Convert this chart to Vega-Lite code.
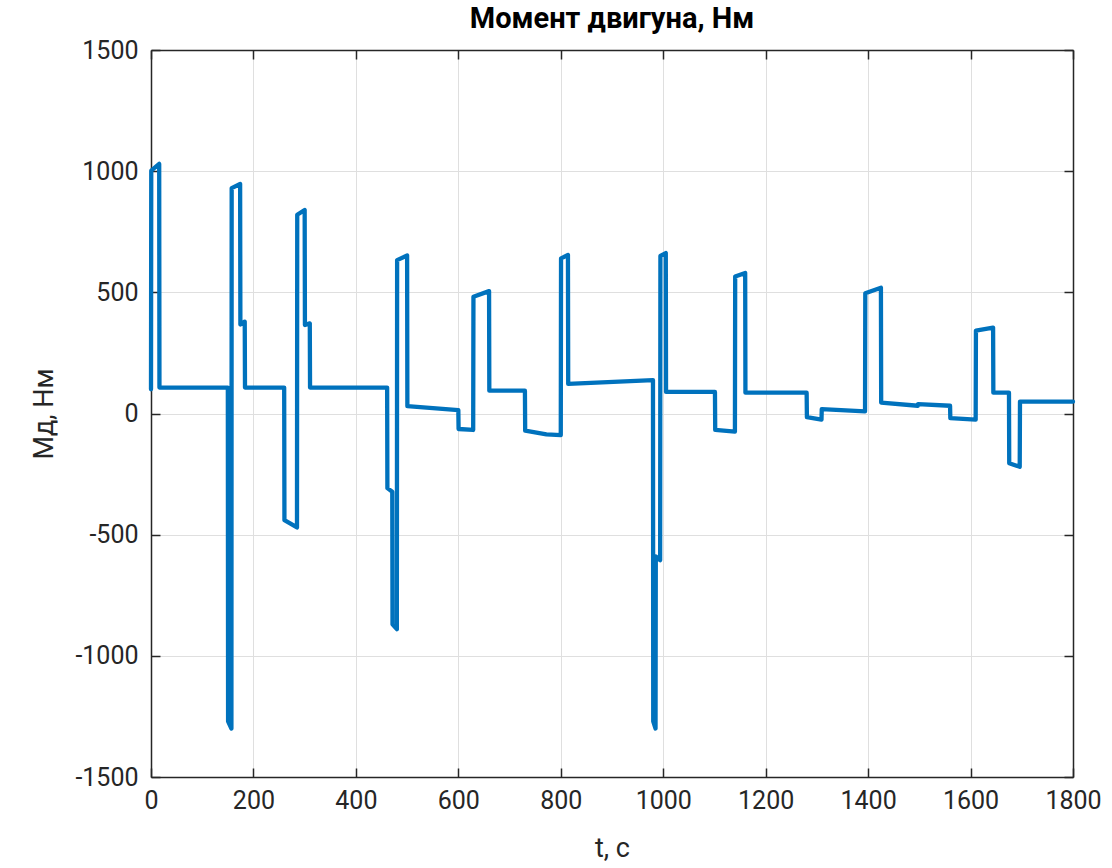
{
  "$schema": "https://vega.github.io/schema/vega-lite/v6.json",
  "autosize": {"type": "none"},
  "width": 922,
  "height": 727,
  "padding": {"left": 151, "top": 50, "right": 39, "bottom": 91},
  "background": "white",
  "title": {
    "text": "Момент двигуна, Нм",
    "font": "Roboto",
    "fontSize": 29,
    "fontWeight": "bold",
    "color": "#000000",
    "anchor": "middle",
    "offset": 4
  },
  "data": {
    "values": [
      {"i": 1, "t": 0, "M": 100},
      {"i": 2, "t": 0.5, "M": 1002},
      {"i": 3, "t": 16, "M": 1030},
      {"i": 4, "t": 16.5, "M": 107},
      {"i": 5, "t": 150, "M": 107},
      {"i": 6, "t": 150.5, "M": -1270},
      {"i": 7, "t": 157, "M": -1300},
      {"i": 8, "t": 157.5, "M": 930},
      {"i": 9, "t": 174, "M": 947},
      {"i": 10, "t": 174.5, "M": 367},
      {"i": 11, "t": 183, "M": 379},
      {"i": 12, "t": 183.5, "M": 107},
      {"i": 13, "t": 260, "M": 107},
      {"i": 14, "t": 260.5, "M": -440},
      {"i": 15, "t": 285, "M": -470},
      {"i": 16, "t": 285.5, "M": 820},
      {"i": 17, "t": 300, "M": 840},
      {"i": 18, "t": 300.5, "M": 365},
      {"i": 19, "t": 310, "M": 372},
      {"i": 20, "t": 310.5, "M": 107},
      {"i": 21, "t": 461, "M": 107},
      {"i": 22, "t": 461.5, "M": -308},
      {"i": 23, "t": 471, "M": -323},
      {"i": 24, "t": 471.5, "M": -870},
      {"i": 25, "t": 480, "M": -890},
      {"i": 26, "t": 480.5, "M": 633},
      {"i": 27, "t": 500, "M": 652},
      {"i": 28, "t": 500.5, "M": 30},
      {"i": 29, "t": 600, "M": 14},
      {"i": 30, "t": 600.5, "M": -64},
      {"i": 31, "t": 629, "M": -68},
      {"i": 32, "t": 629.5, "M": 482},
      {"i": 33, "t": 660, "M": 505},
      {"i": 34, "t": 660.5, "M": 94},
      {"i": 35, "t": 730, "M": 94},
      {"i": 36, "t": 730.5, "M": -71},
      {"i": 37, "t": 772, "M": -86},
      {"i": 38, "t": 800, "M": -89},
      {"i": 39, "t": 800.5, "M": 640},
      {"i": 40, "t": 814, "M": 654},
      {"i": 41, "t": 814.5, "M": 122},
      {"i": 42, "t": 980, "M": 138},
      {"i": 43, "t": 980.5, "M": -1270},
      {"i": 44, "t": 985, "M": -1300},
      {"i": 45, "t": 985.5, "M": -590},
      {"i": 46, "t": 994, "M": -605},
      {"i": 47, "t": 994.5, "M": 650},
      {"i": 48, "t": 1005, "M": 662},
      {"i": 49, "t": 1005.5, "M": 89},
      {"i": 50, "t": 1101, "M": 89},
      {"i": 51, "t": 1101.5, "M": -68},
      {"i": 52, "t": 1140, "M": -75},
      {"i": 53, "t": 1140.5, "M": 565},
      {"i": 54, "t": 1160, "M": 580},
      {"i": 55, "t": 1160.5, "M": 86},
      {"i": 56, "t": 1280, "M": 86},
      {"i": 57, "t": 1280.5, "M": -15},
      {"i": 58, "t": 1309, "M": -25},
      {"i": 59, "t": 1309.5, "M": 18},
      {"i": 60, "t": 1394, "M": 9},
      {"i": 61, "t": 1394.5, "M": 496},
      {"i": 62, "t": 1425, "M": 519},
      {"i": 63, "t": 1425.5, "M": 45},
      {"i": 64, "t": 1497, "M": 32},
      {"i": 65, "t": 1497.5, "M": 39},
      {"i": 66, "t": 1560, "M": 32},
      {"i": 67, "t": 1560.5, "M": -19},
      {"i": 68, "t": 1610, "M": -25},
      {"i": 69, "t": 1610.5, "M": 342},
      {"i": 70, "t": 1644, "M": 354},
      {"i": 71, "t": 1644.5, "M": 86},
      {"i": 72, "t": 1675, "M": 86},
      {"i": 73, "t": 1675.5, "M": -205},
      {"i": 74, "t": 1696, "M": -220},
      {"i": 75, "t": 1696.5, "M": 49},
      {"i": 76, "t": 1800, "M": 49}
    ]
  },
  "layer": [
    {
      "mark": {"type": "line", "color": "#0072BD", "strokeWidth": 4.3, "strokeJoin": "round", "strokeCap": "round", "clip": false},
      "encoding": {
        "x": {
          "field": "t", "type": "quantitative",
          "scale": {"domain": [0, 1800], "nice": false, "zero": false},
          "axis": {
            "orient": "bottom",
            "values": [0, 200, 400, 600, 800, 1000, 1200, 1400, 1600, 1800],
            "labelExpr": "'' + datum.value",
            "title": "t, с",
            "titleFontSize": 27,
            "titleFontWeight": "normal",
            "titlePadding": 22,
            "labelPadding": 20,
            "grid": true
          }
        },
        "y": {
          "field": "M", "type": "quantitative",
          "scale": {"domain": [-1500, 1500], "nice": false, "zero": false},
          "axis": {
            "orient": "left",
            "values": [-1500, -1000, -500, 0, 500, 1000, 1500],
            "labelExpr": "'' + datum.value",
            "title": "Mд, Нм",
            "titleFontSize": 27,
            "titleFontWeight": "normal",
            "titlePadding": 16,
            "labelPadding": 22,
            "grid": true
          }
        },
        "order": {"field": "i", "type": "quantitative"}
      }
    },
    {
      "mark": {"type": "line", "strokeOpacity": 0},
      "encoding": {
        "x": {
          "field": "t", "type": "quantitative",
          "scale": {"domain": [0, 1800], "nice": false, "zero": false},
          "axis": {
            "orient": "top",
            "values": [0, 200, 400, 600, 800, 1000, 1200, 1400, 1600, 1800],
            "title": null, "labels": false, "grid": false
          }
        },
        "y": {
          "field": "M", "type": "quantitative",
          "scale": {"domain": [-1500, 1500], "nice": false, "zero": false},
          "axis": {
            "orient": "right",
            "values": [-1500, -1000, -500, 0, 500, 1000, 1500],
            "title": null, "labels": false, "grid": false
          }
        },
        "order": {"field": "i", "type": "quantitative"}
      }
    }
  ],
  "resolve": {"axis": {"x": "independent", "y": "independent"}},
  "config": {
    "view": {"stroke": null},
    "font": "Roboto",
    "axis": {
      "domainColor": "#262626",
      "domainWidth": 1.5,
      "tickColor": "#262626",
      "tickWidth": 1.5,
      "tickSize": -9,
      "labelFont": "Roboto",
      "labelFontSize": 25,
      "labelColor": "#262626",
      "titleFont": "Roboto",
      "titleColor": "#262626",
      "gridColor": "#dfdfdf",
      "gridWidth": 1,
      "labelFlush": false,
      "labelOverlap": false
    }
  }
}
